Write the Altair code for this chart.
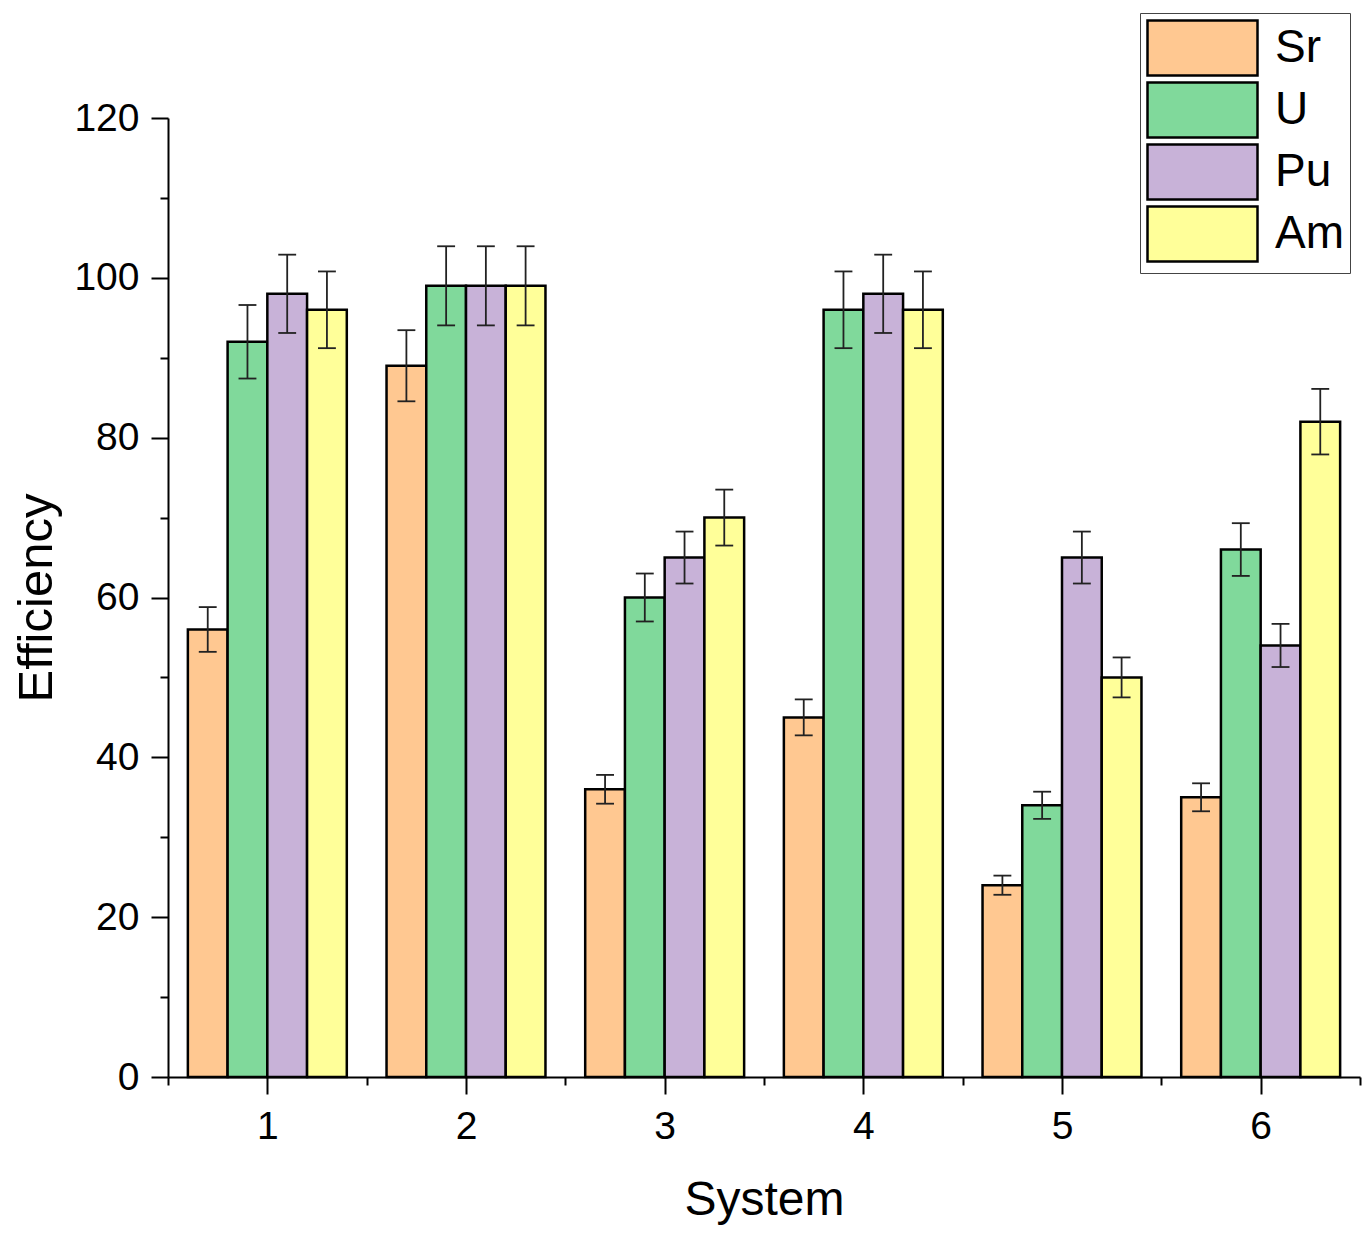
import altair as alt
import pandas as pd

systems = [1, 2, 3, 4, 5, 6]
elements = ["Sr", "U", "Pu", "Am"]
colors = ["#FFC891", "#80D99B", "#C8B2D8", "#FFFF99"]

sr_vals = [56, 89, 36, 45, 24, 35]
u_vals = [92, 99, 60, 96, 34, 66]
pu_vals = [98, 99, 65, 98, 65, 54]
am_vals = [96, 99, 70, 96, 50, 82]

sr_err = [2.8, 4.45, 1.8, 2.25, 1.2, 1.75]
u_err = [4.6, 4.95, 3.0, 4.8, 1.7, 3.3]
pu_err = [4.9, 4.95, 3.25, 4.9, 3.25, 2.7]
am_err = [4.8, 4.95, 3.5, 4.8, 2.5, 4.1]

x_major = [1, 2, 3, 4, 5, 6]
x_minor = [0.5, 1.5, 2.5, 3.5, 4.5, 5.5, 6.5]
y_major = [0, 20, 40, 60, 80, 100, 120]
y_minor = [10, 30, 50, 70, 90, 110]

rows = []
for idx, (el, vals, errs) in enumerate(zip(elements,
                                          [sr_vals, u_vals, pu_vals, am_vals],
                                          [sr_err, u_err, pu_err, am_err])):
    for s, v, e in zip(systems, vals, errs):
        rows.append({"system": s, "element": el, "idx": idx, "value": v, "err": e})
df = pd.DataFrame(rows)

FONT = "Liberation Sans"

xscale = alt.Scale(domain=[0.5, 6.5], nice=False, zero=False)
yscale = alt.Scale(domain=[0, 120], nice=False, zero=False)

base = alt.Chart(df).transform_calculate(
    xc="datum.system - 0.3 + datum.idx * 0.2",
    x0="datum.system - 0.4 + datum.idx * 0.2",
    x1="datum.system - 0.2 + datum.idx * 0.2",
    lo="datum.value - datum.err",
    hi="datum.value + datum.err",
    c0="datum.system - 0.345 + datum.idx * 0.2",
    c1="datum.system - 0.255 + datum.idx * 0.2",
)

major_x_axis = alt.Axis(values=x_major, format="d", title="System", orient="bottom",
                        labelFontSize=39, titleFontSize=48, labelFont=FONT, titleFont=FONT,
                        labelColor="black", titleColor="black", titleFontWeight="normal",
                        domainColor="black", domainWidth=2, tickColor="black", tickWidth=2,
                        tickSize=17, labelPadding=13, titlePadding=30, grid=False, zindex=1,
                        labelFlush=False)
major_y_axis = alt.Axis(values=y_major, title="Efficiency", orient="left",
                        labelFontSize=39, titleFontSize=49, labelFont=FONT, titleFont=FONT,
                        labelColor="black", titleColor="black", titleFontWeight="normal",
                        domainColor="black", domainWidth=2, tickColor="black", tickWidth=2,
                        tickSize=17, labelPadding=12, titlePadding=12, grid=False, zindex=1)
minor_x_axis = alt.Axis(values=x_minor, labels=False, domain=False, title=None, orient="bottom",
                        tickColor="black", tickWidth=2, tickSize=8, grid=False, zindex=1)
minor_y_axis = alt.Axis(values=y_minor, labels=False, domain=False, title=None, orient="left",
                        tickColor="black", tickWidth=2, tickSize=8, grid=False, zindex=1)

bars = base.mark_bar(stroke="black", strokeWidth=2.5).encode(
    x=alt.X("x0:Q", scale=xscale, axis=major_x_axis),
    x2="x1:Q",
    y=alt.Y("value:Q", scale=yscale, axis=major_y_axis),
    y2=alt.Y2(datum=0),
    fill=alt.Fill("element:N",
                  scale=alt.Scale(domain=elements, range=colors),
                  sort=elements,
                  legend=alt.Legend(
                      title=None, orient="none", legendX=972, legendY=-105,
                      symbolType="M-1,-1H3V1H-1Z", symbolSize=3025,
                      symbolStrokeColor="black", symbolStrokeWidth=2.5, symbolOpacity=1,
                      labelFontSize=46, labelFont=FONT, labelColor="black",
                      labelOffset=71, rowPadding=-4, padding=6,
                      strokeColor="#444", fillColor="white",
                  )),
)

err_line = base.mark_rule(color="#222", strokeWidth=1.8).encode(
    x=alt.X("xc:Q", scale=xscale, axis=minor_x_axis),
    y=alt.Y("lo:Q", scale=yscale, axis=minor_y_axis),
    y2="hi:Q",
)
cap_hi = base.mark_rule(color="#222", strokeWidth=1.8).encode(
    x=alt.X("c0:Q", scale=xscale, axis=None), x2="c1:Q",
    y=alt.Y("hi:Q", scale=yscale, axis=None),
)
cap_lo = base.mark_rule(color="#222", strokeWidth=1.8).encode(
    x=alt.X("c0:Q", scale=xscale, axis=None), x2="c1:Q",
    y=alt.Y("lo:Q", scale=yscale, axis=None),
)

chart = alt.layer(bars, err_line, cap_hi, cap_lo).resolve_axis(
    x="independent", y="independent"
).properties(
    width=1192, height=959,
    autosize=alt.AutoSizeParams(type="none"),
    padding={"left": 160, "top": 110, "right": 2, "bottom": 150},
    background="white",
).configure_view(stroke=None)

chart.save("out.html", embed_options={"renderer": "svg", "actions": False})
